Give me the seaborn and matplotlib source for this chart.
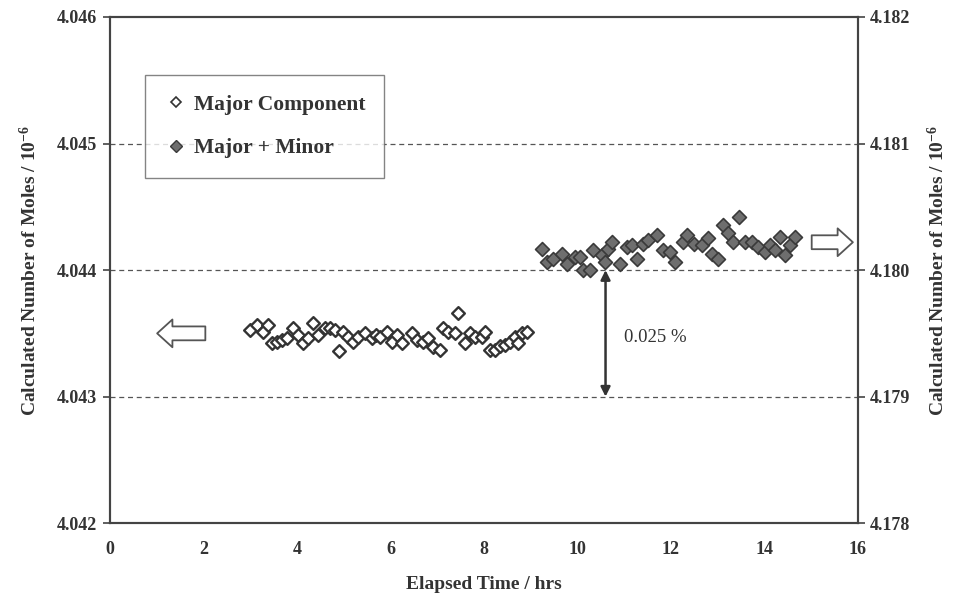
import numpy as np
import pandas as pd
import seaborn as sns
import matplotlib.pyplot as plt
from matplotlib.lines import Line2D

# Major component (left axis)
major_time = [3.00, 3.14, 3.27, 3.38, 3.47, 3.57, 3.68, 3.79, 3.92, 4.02,
              4.13, 4.24, 4.34, 4.45, 4.60, 4.70, 4.81, 4.90, 4.98, 5.09,
              5.20, 5.30, 5.45, 5.60, 5.70, 5.78, 5.92, 6.03, 6.14, 6.25,
              6.46, 6.57, 6.70, 6.80, 6.91, 7.06, 7.13, 7.23, 7.38, 7.45,
              7.60, 7.70, 7.81, 7.96, 8.02, 8.13, 8.24, 8.34, 8.45, 8.56,
              8.66, 8.73, 8.81, 8.92]
major_moles = [4.04353, 4.04357, 4.04351, 4.04357, 4.04342, 4.04343, 4.04345, 4.04346, 4.04354, 4.04349,
               4.04342, 4.04346, 4.04358, 4.04349, 4.04354, 4.04354, 4.04353, 4.04336, 4.04351, 4.04347,
               4.04343, 4.04347, 4.04350, 4.04346, 4.04349, 4.04347, 4.04351, 4.04343, 4.04349, 4.04342,
               4.04350, 4.04345, 4.04343, 4.04346, 4.04339, 4.04337, 4.04354, 4.04351, 4.04350, 4.04366,
               4.04342, 4.04350, 4.04347, 4.04347, 4.04351, 4.04337, 4.04337, 4.04340, 4.04341, 4.04343,
               4.04347, 4.04342, 4.04350, 4.04351]

# Major + minor (right axis)
total_time = [9.24, 9.35, 9.48, 9.67, 9.77, 9.95, 10.05, 10.12, 10.27, 10.33,
              10.52, 10.59, 10.65, 10.73, 10.90, 11.05, 11.17, 11.27, 11.40, 11.50,
              11.70, 11.83, 11.98, 12.08, 12.26, 12.34, 12.50, 12.66, 12.80, 12.88,
              13.00, 13.12, 13.22, 13.33, 13.46, 13.58, 13.73, 13.86, 14.01, 14.12,
              14.22, 14.33, 14.44, 14.55, 14.65]
total_moles = [4.18017, 4.18006, 4.18009, 4.18013, 4.18005, 4.18010, 4.18010, 4.18000, 4.18000, 4.18016,
               4.18012, 4.18006, 4.18017, 4.18022, 4.18005, 4.18018, 4.18020, 4.18009, 4.18021, 4.18024,
               4.18028, 4.18016, 4.18014, 4.18006, 4.18022, 4.18028, 4.18021, 4.18020, 4.18025, 4.18013,
               4.18009, 4.18036, 4.18029, 4.18022, 4.18042, 4.18022, 4.18022, 4.18018, 4.18014, 4.18020,
               4.18016, 4.18026, 4.18012, 4.18020, 4.18026]

left_ticks = [4.042, 4.043, 4.044, 4.045, 4.046]
right_ticks = [4.178, 4.179, 4.180, 4.181, 4.182]
x_ticks = [0, 2, 4, 6, 8, 10, 12, 14, 16]

sns.set_style('white')
plt.rcParams['font.family'] = ['Liberation Serif', 'DejaVu Serif']
plt.rcParams['mathtext.default'] = 'regular'

fig = plt.figure(figsize=(9.56, 6.0), dpi=100)
ax = fig.add_axes([0.115, 0.128, 0.7825, 0.8437])
ax2 = ax.twinx()

major = pd.DataFrame({'t': major_time, 'n': major_moles})
total = pd.DataFrame({'t': total_time, 'n': total_moles})

sns.scatterplot(data=major, x='t', y='n', ax=ax, marker='D', s=42,
                facecolor='white', edgecolor='#333333', linewidth=1.7, zorder=3)
sns.scatterplot(data=total, x='t', y='n', ax=ax2, marker='D', s=50,
                color='#6e6e6e', edgecolor='#3a3a3a', linewidth=1.2, zorder=3)

ax.set_xlim(0, 16)
ax.set_ylim(4.042, 4.046)
ax2.set_ylim(4.178, 4.182)
ax.set_xticks(x_ticks)
ax.set_yticks(left_ticks)
ax2.set_yticks(right_ticks)
ax.set_xticklabels([str(v) for v in x_ticks])
ax.set_yticklabels([f'{v:.3f}' for v in left_ticks])
ax2.set_yticklabels([f'{v:.3f}' for v in right_ticks])

for y in [4.043, 4.044, 4.045]:
    ax.axhline(y, color='#555555', lw=0.9, ls=(0, (4, 3)), zorder=1)

for a in (ax, ax2):
    for s in a.spines.values():
        s.set_color('#444444')
        s.set_linewidth(1.5)
    a.tick_params(direction='out', length=5, width=1.2, color='#444444',
                  labelsize=13, labelcolor='#333333')
    for lab in a.get_xticklabels() + a.get_yticklabels():
        lab.set_fontweight('bold')
ax.tick_params(axis='x', pad=8)
ax.tick_params(axis='y', pad=4)

ylab = 'Calculated Number of Moles / 10$^{-6}$'
ax.set_xlabel('Elapsed Time / hrs', fontsize=14, fontweight='bold', color='#333333', labelpad=13)
ax.set_ylabel(ylab, fontsize=14, fontweight='bold', color='#333333', labelpad=12)
ax2.set_ylabel(ylab, fontsize=14, fontweight='bold', color='#333333', labelpad=12)

# hollow direction arrows
hollow = dict(arrowstyle='simple,head_length=0.55,head_width=1.0,tail_width=0.5',
              fc='white', ec='#555555', lw=1.3, mutation_scale=20)
ax.annotate('', xy=(0.95, 4.0435), xytext=(2.1, 4.0435), arrowprops=hollow)
ax2.annotate('', xy=(15.95, 4.18022), xytext=(14.95, 4.18022), arrowprops=hollow)

# 0.025 % span arrow
ax.annotate('', xy=(10.6, 4.044), xytext=(10.6, 4.043),
            arrowprops=dict(arrowstyle='<|-|>', color='#333333', lw=1.8, mutation_scale=14,
                            shrinkA=0, shrinkB=0))
ax.text(11.0, 4.04347, '0.025 %', fontsize=13.5, color='#333333', va='center', ha='left')

handles = [Line2D([], [], ls='none', marker='D', ms=5, mfc='white', mec='#333333', mew=1.2),
           Line2D([], [], ls='none', marker='D', ms=6, mfc='#6e6e6e', mec='#3a3a3a', mew=1.0)]
leg = ax.legend(handles, ['Major Component', 'Major + Minor'], loc='upper left',
                bbox_to_anchor=(0.047, 0.885), frameon=True, fancybox=False,
                prop={'weight': 'bold', 'size': 15.5}, handletextpad=0.25,
                labelspacing=1.1, borderpad=0.9, handlelength=1.1, borderaxespad=0)
leg.get_frame().set_edgecolor('#666666')
leg.get_frame().set_linewidth(1.0)
for t in leg.get_texts():
    t.set_color('#333333')

fig.savefig('out.png', dpi=100)
